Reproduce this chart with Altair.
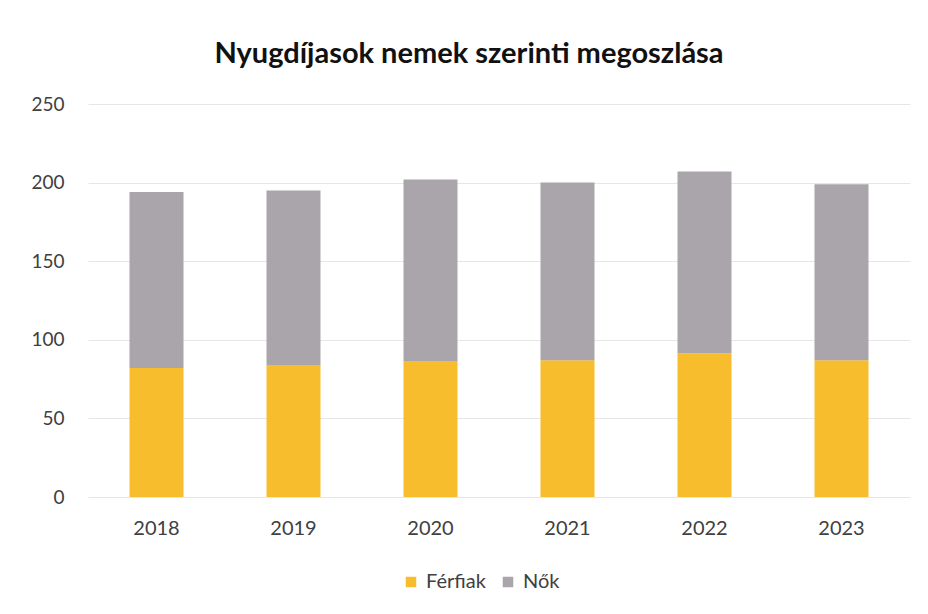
import altair as alt
import pandas as pd

years = ["2018", "2019", "2020", "2021", "2022", "2023"]
ferfiak = [82, 84, 86.5, 87, 91.5, 87]
totals = [194, 195, 202, 200, 207, 199]
nok = [t - f for t, f in zip(totals, ferfiak)]
series = ["Férfiak", "Nők"]
colors = ["#f7bd2c", "#a9a5aa"]

rows = []
for i, y in enumerate(years):
    rows.append({"year": y, "series": series[0], "value": ferfiak[i], "order": 0})
    rows.append({"year": y, "series": series[1], "value": nok[i], "order": 1})
df = pd.DataFrame(rows)

font = "Lato"

bars = alt.Chart(df).mark_bar(width=54).encode(
    x=alt.X("year:N", sort=years, title=None,
            axis=alt.Axis(labelAngle=0, labelFontSize=20, labelColor="#404040",
                          labelFont=font, labelPadding=21, ticks=False, domain=False,
                          grid=False)),
    y=alt.Y("value:Q", stack="zero", title=None,
            scale=alt.Scale(domain=[0, 250]),
            axis=alt.Axis(values=[0, 50, 100, 150, 200, 250], labelFontSize=19,
                          labelColor="#404040", labelFont=font, labelPadding=24,
                          ticks=False, domain=False, gridColor="#e6e6e6",
                          gridWidth=1)),
    color=alt.Color("series:N", sort=series,
                    scale=alt.Scale(domain=series, range=colors),
                    legend=alt.Legend(title=None, orient="none", direction="horizontal",
                                      legendX=313, legendY=468, labelFontSize=20,
                                      labelFont=font, labelColor="#404040",
                                      symbolType="square", symbolSize=110,
                                      symbolStrokeWidth=0, columnPadding=12,
                                      labelOffset=5)),
    order=alt.Order("order:Q"),
)

chart = bars.properties(
    width=822,
    height=393,
    background="white",
    autosize=alt.AutoSizeParams(type="none"),
    padding={"left": 80, "top": 96, "right": 10, "bottom": 100},
    title=alt.TitleParams(
        "Nyugdíjasok nemek szerinti megoszlása",
        fontSize=29, font=font, fontWeight="bold", color="#111111",
        anchor="middle", offset=26, dx=-30,
    ),
).configure_view(strokeWidth=0, stroke="transparent")

chart.save("out.html", embed_options={"renderer": "svg", "actions": False})
